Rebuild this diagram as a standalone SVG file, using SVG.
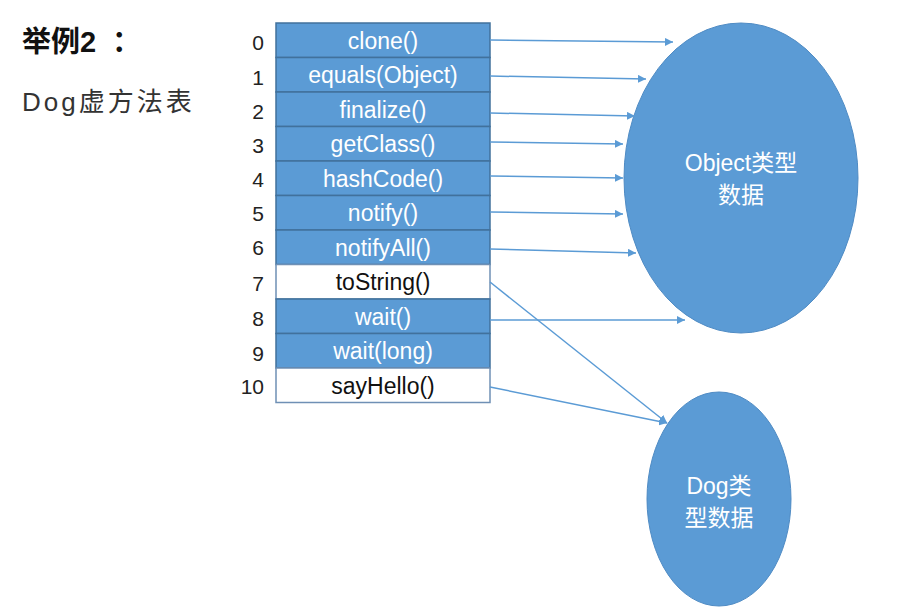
<svg xmlns="http://www.w3.org/2000/svg" width="916" height="613" viewBox="0 0 916 613">
<defs>
<marker id="ah" viewBox="0 0 10 10" refX="10" refY="5" markerWidth="8" markerHeight="8" markerUnits="userSpaceOnUse" orient="auto">
<path d="M0,0 L10,5 L0,10 z" fill="#5b9bd5"/>
</marker>
</defs>
<style>
.cell{fill:#5b9bd5;stroke:#41719c;stroke-width:1.5}
.wcell{fill:#ffffff;stroke:#6f90b5;stroke-width:1.5}
.lbl{font-family:"Liberation Sans",Arial,sans-serif;font-size:23px;fill:#ffffff;text-anchor:middle}
.wlbl{font-family:"Liberation Sans",Arial,sans-serif;font-size:23px;fill:#111111;text-anchor:middle}
.idx{font-family:"Liberation Sans",Arial,sans-serif;font-size:21px;fill:#222222;text-anchor:end}
.conn{stroke:#5b9bd5;stroke-width:1.5;fill:none;marker-end:url(#ah)}
.ell{fill:#5b9bd5;stroke:#4f8bc4;stroke-width:1}
.etext{font-family:"Liberation Sans","Noto Sans CJK SC",sans-serif;font-size:23px;fill:#ffffff;text-anchor:middle}
</style>
<rect width="916" height="613" fill="#ffffff"/>
<text x="22" y="52" font-family="'Liberation Sans','Noto Sans CJK SC',sans-serif" font-size="29" font-weight="bold" fill="#111">举例2<tspan x="112">：</tspan></text>
<text x="22" y="111" font-family="'Liberation Sans','Noto Sans CJK SC',sans-serif" font-size="26" letter-spacing="3" fill="#333">Dog虚方法表</text>

<g id="table">
<g id="row0"><rect class="cell" x="276" y="23" width="214" height="34.5"/><text class="lbl" x="383" y="48.5">clone()</text><text class="idx" x="264" y="50">0</text></g>
<g id="row1"><rect class="cell" x="276" y="57.5" width="214" height="34.5"/><text class="lbl" x="383" y="83">equals(Object)</text><text class="idx" x="264" y="85">1</text></g>
<g id="row2"><rect class="cell" x="276" y="92" width="214" height="34.5"/><text class="lbl" x="383" y="117.5">finalize()</text><text class="idx" x="264" y="119">2</text></g>
<g id="row3"><rect class="cell" x="276" y="126.5" width="214" height="34.5"/><text class="lbl" x="383" y="152">getClass()</text><text class="idx" x="264" y="153">3</text></g>
<g id="row4"><rect class="cell" x="276" y="161" width="214" height="34.5"/><text class="lbl" x="383" y="186.5">hashCode()</text><text class="idx" x="264" y="187">4</text></g>
<g id="row5"><rect class="cell" x="276" y="195.5" width="214" height="34.5"/><text class="lbl" x="383" y="221">notify()</text><text class="idx" x="264" y="221">5</text></g>
<g id="row6"><rect class="cell" x="276" y="230" width="214" height="34.5"/><text class="lbl" x="383" y="255.5">notifyAll()</text><text class="idx" x="264" y="255">6</text></g>
<g id="row7"><rect class="wcell" x="276" y="264.5" width="214" height="34.5"/><text class="wlbl" x="383" y="290">toString()</text><text class="idx" x="264" y="291">7</text></g>
<g id="row8"><rect class="cell" x="276" y="299" width="214" height="34.5"/><text class="lbl" x="383" y="324.5">wait()</text><text class="idx" x="264" y="326">8</text></g>
<g id="row9"><rect class="cell" x="276" y="333.5" width="214" height="34.5"/><text class="lbl" x="383" y="359">wait(long)</text><text class="idx" x="264" y="361">9</text></g>
<g id="row10"><rect class="wcell" x="276" y="368" width="214" height="34.5"/><text class="wlbl" x="383" y="393.5">sayHello()</text><text class="idx" x="264" y="394">10</text></g>
</g>

<g id="object-data">
<ellipse class="ell" cx="741" cy="178" rx="117" ry="155"/>
<text class="etext" x="741" y="171">Object类型</text>
<text class="etext" x="741" y="203">数据</text>
</g>

<g id="dog-data">
<ellipse class="ell" cx="719" cy="499" rx="72" ry="107"/>
<text class="etext" x="719" y="494">Dog类</text>
<text class="etext" x="719" y="526">型数据</text>
</g>

<g id="connectors">
<line class="conn" x1="490" y1="40" x2="673" y2="42"/>
<line class="conn" x1="490" y1="76" x2="646" y2="79"/>
<line class="conn" x1="490" y1="113" x2="635" y2="116"/>
<line class="conn" x1="490" y1="142" x2="623" y2="144"/>
<line class="conn" x1="490" y1="176" x2="623" y2="178"/>
<line class="conn" x1="490" y1="212" x2="623" y2="214"/>
<line class="conn" x1="490" y1="249" x2="636" y2="253"/>
<line class="conn" x1="490" y1="320" x2="685" y2="320"/>
<line class="conn" x1="490" y1="282" x2="667" y2="423"/>
<line class="conn" x1="490" y1="387" x2="667" y2="423"/>
</g>
</svg>
